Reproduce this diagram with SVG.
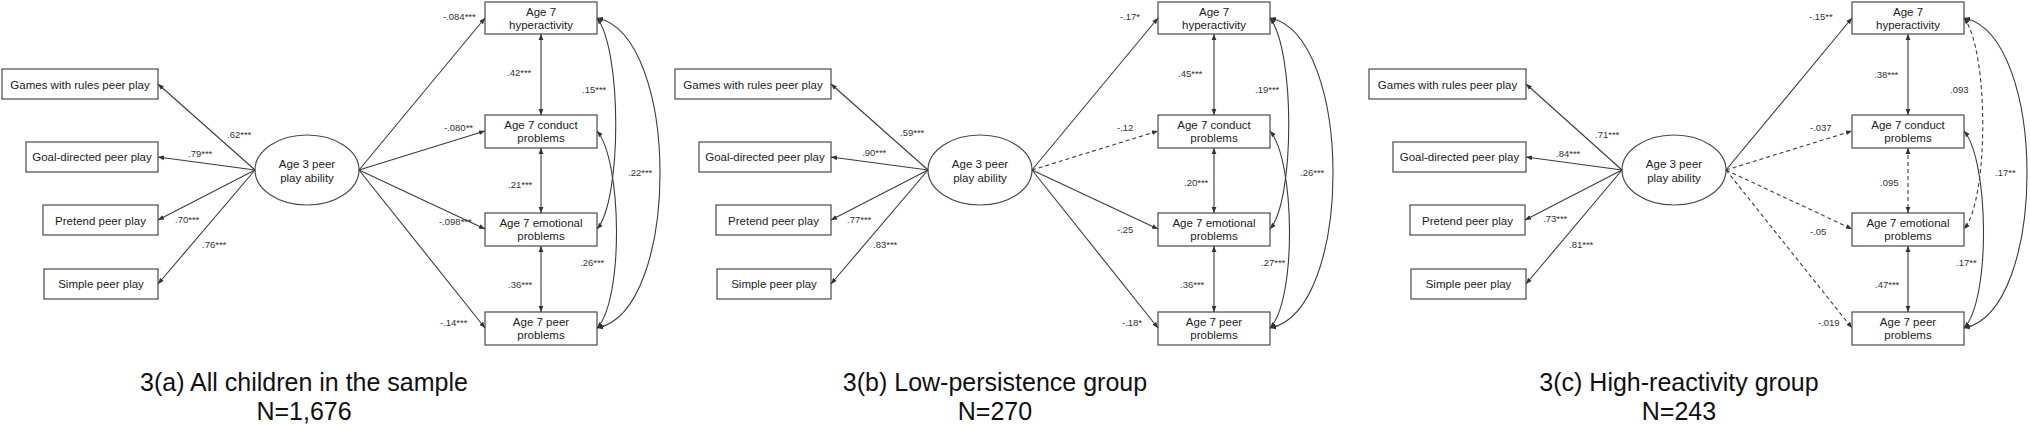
<svg xmlns="http://www.w3.org/2000/svg" width="2030" height="425" viewBox="0 0 2030 425">
<style>
.box{fill:#fff;stroke:#4a4a4a;stroke-width:1.2}
.ell{fill:#fff;stroke:#4a4a4a;stroke-width:1.2}
.nt{font-family:"Liberation Sans",Arial,sans-serif;font-size:11.5px;fill:#222;text-anchor:middle}
.cf{font-family:"Liberation Sans",Arial,sans-serif;font-size:9.5px;fill:#333}
.ttl{font-family:"Liberation Sans",Arial,sans-serif;font-size:25px;fill:#111;text-anchor:middle}
.ln{fill:none;stroke:#3c3c3c;stroke-width:1.1}
.d{stroke-dasharray:4 3}
.a1{marker-end:url(#ah)}
.a2{marker-start:url(#ah);marker-end:url(#ah)}
</style>
<defs>
<marker id="ah" viewBox="0 0 10 10" refX="10" refY="5" markerWidth="5.5" markerHeight="5.5" orient="auto-start-reverse">
<path d="M0,1 L10,5 L0,9 z" fill="#333"/>
</marker>
</defs>
<rect width="2030" height="425" fill="#fff"/>

<!-- Panel A -->
<g id="panel-a">
<g id="a-games"><rect class="box" x="2" y="69" width="156" height="30"/><text class="nt" x="80" y="89">Games with rules peer play</text></g>
<g id="a-goal"><rect class="box" x="26" y="142" width="132" height="30"/><text class="nt" x="92" y="161">Goal-directed peer play</text></g>
<g id="a-pretend"><rect class="box" x="43" y="205" width="115" height="30"/><text class="nt" x="100.5" y="225">Pretend peer play</text></g>
<g id="a-simple"><rect class="box" x="44" y="269" width="114" height="30"/><text class="nt" x="101" y="288">Simple peer play</text></g>
<g id="a-age3"><ellipse class="ell" cx="307" cy="170" rx="52" ry="35"/><text class="nt" x="307" y="168">Age 3 peer</text><text class="nt" x="307" y="182">play ability</text></g>
<g id="a-hyper"><rect class="box" x="485" y="2" width="112" height="32"/><text class="nt" x="541" y="16">Age 7</text><text class="nt" x="541" y="29">hyperactivity</text></g>
<g id="a-conduct"><rect class="box" x="485" y="115" width="112" height="33"/><text class="nt" x="541" y="129">Age 7 conduct</text><text class="nt" x="541" y="142">problems</text></g>
<g id="a-emotional"><rect class="box" x="485" y="213" width="112" height="33"/><text class="nt" x="541" y="227">Age 7 emotional</text><text class="nt" x="541" y="240">problems</text></g>
<g id="a-peer"><rect class="box" x="485" y="312" width="112" height="33"/><text class="nt" x="541" y="326">Age 7 peer</text><text class="nt" x="541" y="339">problems</text></g>
<g id="a-connectors">
<path class="ln a1" d="M255,170 L158,84"/>
<path class="ln a1" d="M255,170 L158,157"/>
<path class="ln a1" d="M255,170 L158,220"/>
<path class="ln a1" d="M255,170 L158,284"/>
<path class="ln a1" d="M359,170 L485,18"/>
<path class="ln a1" d="M359,170 L485,131"/>
<path class="ln a1" d="M359,170 L485,229"/>
<path class="ln a1" d="M359,170 L485,328"/>
<path class="ln a2" d="M541,34 L541,115"/>
<path class="ln a2" d="M541,148 L541,213"/>
<path class="ln a2" d="M541,246 L541,312"/>
<path class="ln a2" d="M597,18 C622,50 622,200 597,229"/>
<path class="ln a2" d="M597,131 C622,160 624,300 597,328"/>
<path class="ln a2" d="M597,18 C681,35 681,312 597,328"/>
<text class="cf" x="227" y="138">.62***</text>
<text class="cf" x="188" y="157">.79***</text>
<text class="cf" x="175" y="223">.70***</text>
<text class="cf" x="202" y="248">.76***</text>
<text class="cf" x="443" y="20">-.084***</text>
<text class="cf" x="444" y="131">-.080**</text>
<text class="cf" x="439" y="225">-.098***</text>
<text class="cf" x="440" y="326">-.14***</text>
<text class="cf" x="507" y="76">.42***</text>
<text class="cf" x="508" y="188">.21***</text>
<text class="cf" x="508" y="288">.36***</text>
<text class="cf" x="582" y="93">.15***</text>
<text class="cf" x="628" y="176">.22***</text>
<text class="cf" x="580" y="266">.26***</text>
</g>
<text class="ttl" x="304" y="391">3(a) All children in the sample</text>
<text class="ttl" x="304" y="420">N=1,676</text>
</g>

<!-- Panel B -->
<g id="panel-b" transform="translate(673,0)">
<g id="b-games"><rect class="box" x="2" y="69" width="156" height="30"/><text class="nt" x="80" y="89">Games with rules peer play</text></g>
<g id="b-goal"><rect class="box" x="26" y="142" width="132" height="30"/><text class="nt" x="92" y="161">Goal-directed peer play</text></g>
<g id="b-pretend"><rect class="box" x="43" y="205" width="115" height="30"/><text class="nt" x="100.5" y="225">Pretend peer play</text></g>
<g id="b-simple"><rect class="box" x="44" y="269" width="114" height="30"/><text class="nt" x="101" y="288">Simple peer play</text></g>
<g id="b-age3"><ellipse class="ell" cx="307" cy="170" rx="52" ry="35"/><text class="nt" x="307" y="168">Age 3 peer</text><text class="nt" x="307" y="182">play ability</text></g>
<g id="b-hyper"><rect class="box" x="485" y="2" width="112" height="32"/><text class="nt" x="541" y="16">Age 7</text><text class="nt" x="541" y="29">hyperactivity</text></g>
<g id="b-conduct"><rect class="box" x="485" y="115" width="112" height="33"/><text class="nt" x="541" y="129">Age 7 conduct</text><text class="nt" x="541" y="142">problems</text></g>
<g id="b-emotional"><rect class="box" x="485" y="213" width="112" height="33"/><text class="nt" x="541" y="227">Age 7 emotional</text><text class="nt" x="541" y="240">problems</text></g>
<g id="b-peer"><rect class="box" x="485" y="312" width="112" height="33"/><text class="nt" x="541" y="326">Age 7 peer</text><text class="nt" x="541" y="339">problems</text></g>
<g id="b-connectors">
<path class="ln a1" d="M255,170 L158,84"/>
<path class="ln a1" d="M255,170 L158,157"/>
<path class="ln a1" d="M255,170 L158,220"/>
<path class="ln a1" d="M255,170 L158,284"/>
<path class="ln a1" d="M359,170 L485,18"/>
<path class="ln a1 d" d="M359,170 L485,131"/>
<path class="ln a1" d="M359,170 L485,229"/>
<path class="ln a1" d="M359,170 L485,328"/>
<path class="ln a2" d="M541,34 L541,115"/>
<path class="ln a2" d="M541,148 L541,213"/>
<path class="ln a2" d="M541,246 L541,312"/>
<path class="ln a2" d="M597,18 C622,50 622,200 597,229"/>
<path class="ln a2" d="M597,131 C622,160 624,300 597,328"/>
<path class="ln a2" d="M597,18 C681,35 681,312 597,328"/>
<text class="cf" x="227" y="136">.59***</text>
<text class="cf" x="189" y="156">.90***</text>
<text class="cf" x="174" y="223">.77***</text>
<text class="cf" x="200" y="248">.83***</text>
<text class="cf" x="447" y="20">-.17*</text>
<text class="cf" x="444" y="131">-.12</text>
<text class="cf" x="444" y="233">-.25</text>
<text class="cf" x="449" y="326">-.18*</text>
<text class="cf" x="505" y="77">.45***</text>
<text class="cf" x="511" y="186">.20***</text>
<text class="cf" x="507" y="288">.36***</text>
<text class="cf" x="582" y="93">.19***</text>
<text class="cf" x="627" y="176">.26***</text>
<text class="cf" x="588" y="266">.27***</text>
</g>
<text class="ttl" x="322" y="391">3(b) Low-persistence group</text>
<text class="ttl" x="322" y="420">N=270</text>
</g>

<!-- Panel C -->
<g id="panel-c" transform="translate(1367,0)">
<g id="c-games"><rect class="box" x="2" y="69" width="157" height="30"/><text class="nt" x="80.5" y="89">Games with rules peer play</text></g>
<g id="c-goal"><rect class="box" x="26" y="142" width="133" height="30"/><text class="nt" x="92.5" y="161">Goal-directed peer play</text></g>
<g id="c-pretend"><rect class="box" x="43" y="205" width="115" height="30"/><text class="nt" x="100.5" y="225">Pretend peer play</text></g>
<g id="c-simple"><rect class="box" x="44" y="269" width="115" height="30"/><text class="nt" x="101.5" y="288">Simple peer play</text></g>
<g id="c-age3"><ellipse class="ell" cx="307" cy="170" rx="52" ry="35"/><text class="nt" x="307" y="168">Age 3 peer</text><text class="nt" x="307" y="182">play ability</text></g>
<g id="c-hyper"><rect class="box" x="485" y="2" width="112" height="32"/><text class="nt" x="541" y="16">Age 7</text><text class="nt" x="541" y="29">hyperactivity</text></g>
<g id="c-conduct"><rect class="box" x="485" y="115" width="112" height="33"/><text class="nt" x="541" y="129">Age 7 conduct</text><text class="nt" x="541" y="142">problems</text></g>
<g id="c-emotional"><rect class="box" x="485" y="213" width="112" height="33"/><text class="nt" x="541" y="227">Age 7 emotional</text><text class="nt" x="541" y="240">problems</text></g>
<g id="c-peer"><rect class="box" x="485" y="312" width="112" height="33"/><text class="nt" x="541" y="326">Age 7 peer</text><text class="nt" x="541" y="339">problems</text></g>
<g id="c-connectors">
<path class="ln a1" d="M255,170 L159,84"/>
<path class="ln a1" d="M255,170 L159,157"/>
<path class="ln a1" d="M255,170 L158,220"/>
<path class="ln a1" d="M255,170 L159,284"/>
<path class="ln a1" d="M359,170 L485,18"/>
<path class="ln a1 d" d="M359,170 L485,131"/>
<path class="ln a1 d" d="M359,170 L485,229"/>
<path class="ln a1 d" d="M359,170 L485,328"/>
<path class="ln a2" d="M541,34 L541,115"/>
<path class="ln a2 d" d="M541,148 L541,213"/>
<path class="ln a2" d="M541,246 L541,312"/>
<path class="ln a2 d" d="M597,18 C622,50 622,200 597,229"/>
<path class="ln a2" d="M597,131 C622,160 624,300 597,328"/>
<path class="ln a2" d="M597,18 C681,35 681,312 597,328"/>
<text class="cf" x="228" y="138">.71***</text>
<text class="cf" x="189" y="157">.84***</text>
<text class="cf" x="176" y="222">.73***</text>
<text class="cf" x="202" y="248">.81***</text>
<text class="cf" x="442" y="20">-.15**</text>
<text class="cf" x="443" y="131">-.037</text>
<text class="cf" x="443" y="235">-.05</text>
<text class="cf" x="451" y="326">-.019</text>
<text class="cf" x="507" y="78">.38***</text>
<text class="cf" x="513" y="186">.095</text>
<text class="cf" x="508" y="288">.47***</text>
<text class="cf" x="583" y="93">.093</text>
<text class="cf" x="628" y="176">.17**</text>
<text class="cf" x="589" y="266">.17**</text>
</g>
<text class="ttl" x="312" y="391">3(c) High-reactivity group</text>
<text class="ttl" x="312" y="420">N=243</text>
</g>
</svg>
